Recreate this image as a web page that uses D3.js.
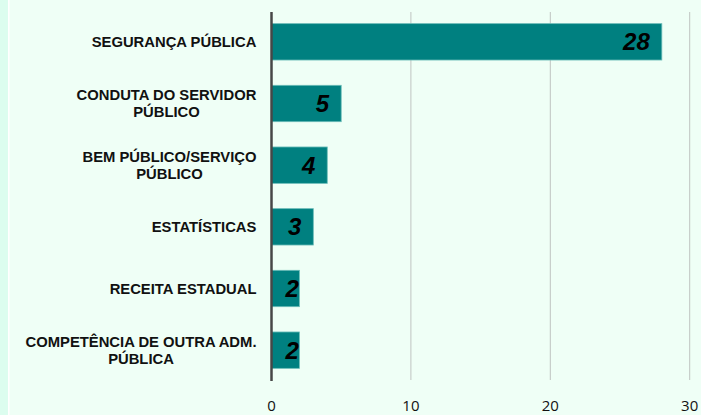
<!DOCTYPE html>
<meta charset="utf-8" />
<script src="https://d3js.org/d3.v7.min.js"></script>
<body style="margin:0;background:#effff6">
<svg id="chart" width="701" height="415" style="display:block"></svg>
<script>
/* data ------------------------------------------------------------------- */
const categories = [
  "SEGURANÇA PÚBLICA",
  "CONDUTA DO SERVIDOR|PÚBLICO",
  "BEM PÚBLICO/SERVIÇO|PÚBLICO",
  "ESTATÍSTICAS",
  "RECEITA ESTADUAL",
  "COMPETÊNCIA DE OUTRA ADM.|PÚBLICA"
];
const values = [28, 5, 4, 3, 2, 2];
const ticks = [0, 10, 20, 30];

/* layout ----------------------------------------------------------------- */
const W = 701, H = 415;
const svg = d3.select("#chart");

// left strip + thin white line
svg.append("rect").attr("x",0).attr("y",0).attr("width",8).attr("height",H).attr("fill","#dcfdef");
svg.append("rect").attr("x",8).attr("y",0).attr("width",1.5).attr("height",H).attr("fill","#ffffff");

const x = d3.scaleLinear().domain([0,30]).range([271.5,689.7]);
const y = d3.scaleBand().domain(categories).range([11,381]).paddingInner(0.41).paddingOuter(0.205);

// gridlines
svg.append("g").selectAll("line").data(ticks.slice(1)).join("line")
  .attr("x1",d=>x(d)).attr("x2",d=>x(d)).attr("y1",12).attr("y2",380)
  .attr("stroke","#bfc4c1").attr("stroke-width",1);

// bars
svg.append("g").selectAll("rect").data(values).join("rect")
  .attr("x",x(0)).attr("y",(d,i)=>y(categories[i]))
  .attr("width",d=>x(d)-x(0)).attr("height",y.bandwidth())
  .attr("fill","#008080").attr("stroke","#6bbcb8").attr("stroke-width",0.8);

// axis line
svg.append("line").attr("x1",x(0)).attr("x2",x(0)).attr("y1",12).attr("y2",381)
  .attr("stroke","#474747").attr("stroke-width",2.5);

// value labels (inside end, but not closer than 14px to the axis)
svg.append("g").selectAll("text").data(values).join("text")
  .attr("y",(d,i)=>y(categories[i])+y.bandwidth()/2)
  .attr("dy","0.36em").attr("text-anchor","end")
  .attr("font-family","Liberation Sans, Arial, sans-serif")
  .attr("font-weight","bold").attr("font-style","italic").attr("font-size","24px")
  .attr("fill","#000").text(d=>d)
  .each(function(d){
    const w = this.getComputedTextLength();
    d3.select(this).attr("x", Math.max(x(d)-12, x(0)+14+w));
  });

// category labels
svg.append("g").selectAll("text").data(categories).join("text")
  .attr("text-anchor","middle")
  .attr("font-family","Liberation Sans, Arial, sans-serif")
  .attr("font-weight","bold").attr("font-size","14.8px").attr("fill","#111")
  .each(function(c){
    const lines = c.split("|");
    const t = d3.select(this);
    const cy = y(c)+y.bandwidth()/2;
    lines.forEach((l,k)=>{
      t.append("tspan").attr("x",0)
        .attr("y",cy + (k-(lines.length-1)/2)*17).attr("dy","0.36em").text(l);
    });
    const w = this.getBBox().width;
    t.attr("transform",`translate(${256.5 - w/2},0)`);
  });

// tick labels
svg.append("g").selectAll("text").data(ticks).join("text")
  .attr("x",d=>x(d)).attr("y",406).attr("dy","0.36em").attr("text-anchor","middle")
  .attr("font-family","Open Sans, sans-serif").attr("font-size","15px").attr("fill","#111")
  .text(d=>d);
</script>
</body>
